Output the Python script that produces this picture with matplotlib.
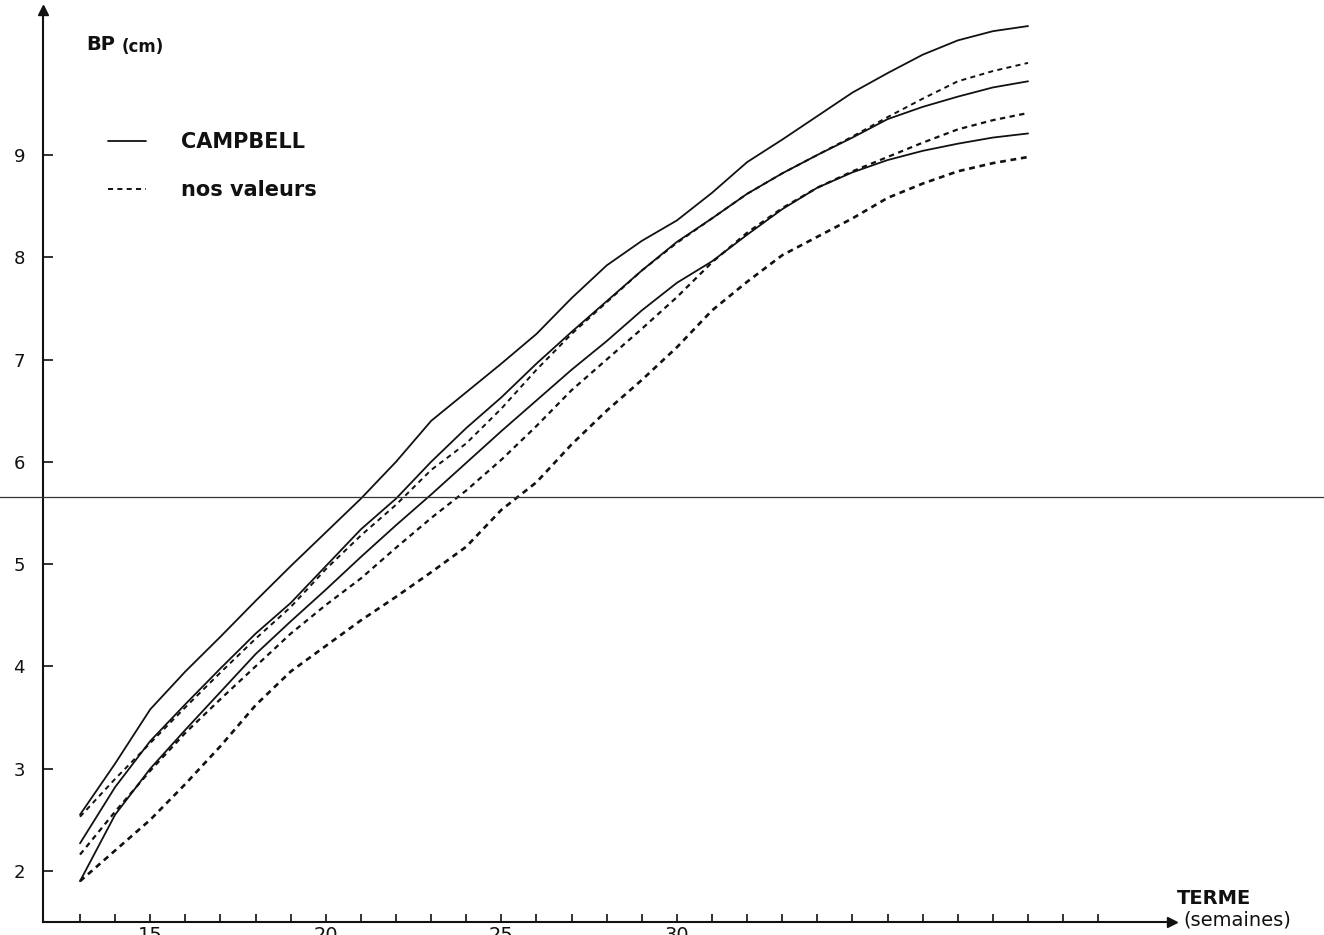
import matplotlib
matplotlib.use("Agg")
import matplotlib.pyplot as plt
from matplotlib.lines import Line2D
from matplotlib.transforms import blended_transform_factory

# ---------------- data ----------------
weeks = list(range(13, 41))

campbell_high = [2.55, 3.05, 3.58, 3.95, 4.29, 4.64, 4.98, 5.31, 5.64, 6.00,
                 6.40, 6.68, 6.96, 7.25, 7.60, 7.92, 8.16, 8.36, 8.63, 8.93,
                 9.15, 9.38, 9.61, 9.80, 9.98, 10.12, 10.21, 10.26]
campbell_mid = [2.27, 2.82, 3.27, 3.63, 3.98, 4.32, 4.62, 4.98, 5.34, 5.64,
                6.00, 6.33, 6.63, 6.96, 7.27, 7.57, 7.87, 8.15, 8.38, 8.62,
                8.82, 9.00, 9.17, 9.35, 9.47, 9.57, 9.66, 9.72]
campbell_low = [1.90, 2.55, 3.00, 3.38, 3.75, 4.12, 4.44, 4.75, 5.07, 5.38,
                5.68, 5.99, 6.30, 6.60, 6.90, 7.18, 7.48, 7.75, 7.96, 8.22,
                8.47, 8.68, 8.83, 8.95, 9.04, 9.11, 9.17, 9.21]

ours_high = [2.53, 2.90, 3.25, 3.60, 3.94, 4.27, 4.58, 4.95, 5.28, 5.58,
             5.92, 6.18, 6.52, 6.90, 7.25, 7.56, 7.87, 8.14, 8.38, 8.62,
             8.82, 9.00, 9.18, 9.37, 9.55, 9.72, 9.82, 9.90]
ours_mid = [2.16, 2.58, 2.98, 3.35, 3.68, 4.00, 4.32, 4.60, 4.86, 5.16,
            5.45, 5.72, 6.02, 6.35, 6.70, 7.00, 7.30, 7.61, 7.95, 8.24,
            8.48, 8.68, 8.84, 8.98, 9.12, 9.25, 9.34, 9.41]
ours_low = [1.90, 2.20, 2.50, 2.85, 3.22, 3.62, 3.95, 4.20, 4.45, 4.68,
            4.92, 5.17, 5.53, 5.80, 6.17, 6.50, 6.80, 7.12, 7.48, 7.76,
            8.02, 8.20, 8.38, 8.58, 8.72, 8.84, 8.92, 8.98]

y_ticks = [2, 3, 4, 5, 6, 7, 8, 9]
x_ticks = list(range(13, 43))
x_labelled = [15, 20, 25, 30]
fold_line = 5.66

legend_labels = ["CAMPBELL", "nos valeurs"]

# ---------------- figure ----------------
W, H = 1324, 935
fig = plt.figure(figsize=(W / 100, H / 100), dpi=100)
fig.patch.set_facecolor("white")

def fx(px):
    return px / W

def fy(py):
    return 1 - py / H

ax = fig.add_axes([fx(43), fy(922), fx(1172) - fx(43), fy(10) - fy(922)])
ax.set_xlim(11.946, 44.10)
ax.set_ylim(1.501, 10.417)
ax.set_facecolor("none")

ink = "#111111"
for s in ("top", "right"):
    ax.spines[s].set_visible(False)
for s in ("left", "bottom"):
    ax.spines[s].set_linewidth(1.5)
    ax.spines[s].set_color(ink)

ax.set_yticks(y_ticks)
ax.set_yticklabels([str(v) for v in y_ticks])
ax.set_xticks(x_ticks)
ax.set_xticklabels([str(v) if v in x_labelled else "" for v in x_ticks])
ax.tick_params(axis="y", direction="in", length=7, width=1.2, pad=13,
               labelsize=13, colors=ink)
ax.tick_params(axis="x", direction="in", length=6, width=1.2, pad=3,
               labelsize=14, colors=ink)

# axis arrow heads
ax.plot([0], [1], marker="^", markersize=7, color=ink, transform=ax.transAxes,
        clip_on=False)
ax.plot([1], [0], marker=">", markersize=7, color=ink, transform=ax.transAxes,
        clip_on=False)

# curves
solid_kw = dict(color=ink, lw=1.3, solid_capstyle="round")
l_camp, = ax.plot(weeks, campbell_high, **solid_kw)
ax.plot(weeks, campbell_mid, **solid_kw)
ax.plot(weeks, campbell_low, **solid_kw)

l_ours, = ax.plot(weeks, ours_high, color=ink, lw=1.4, dashes=(2.6, 2.2))
ax.plot(weeks, ours_mid, color=ink, lw=1.6, dashes=(2.4, 2.0))
ax.plot(weeks, ours_low, color=ink, lw=1.9, dashes=(2.2, 1.8))

# horizontal fold line across the whole sheet
tr = blended_transform_factory(fig.transFigure, ax.transData)
fig.add_artist(Line2D([0, 1], [fold_line, fold_line], transform=tr,
                      color="#333333", lw=0.9))

# texts
fig.text(fx(86), fy(45), "BP", fontsize=14, color=ink, va="center",
         ha="left", fontweight="bold")
fig.text(fx(122), fy(47), "(cm)", fontsize=12, color=ink, va="center",
         ha="left", fontweight="bold")

leg = ax.legend(handles=[l_camp, l_ours], labels=legend_labels,
                loc="upper left", bbox_to_anchor=(fx(108), fy(132)),
                bbox_transform=fig.transFigure, frameon=False, fontsize=15,
                handlelength=1.8, handletextpad=1.7, labelspacing=1.35,
                borderpad=0, borderaxespad=0)
for t in leg.get_texts():
    t.set_color(ink)
    t.set_fontweight("bold")

fig.text(fx(1177), fy(898), "TERME", fontsize=14, color=ink, va="center",
         ha="left", fontweight="bold")
fig.text(fx(1183), fy(920), "(semaines)", fontsize=14, color=ink,
         va="center", ha="left")

fig.savefig("out.png", dpi=100, facecolor="white")
